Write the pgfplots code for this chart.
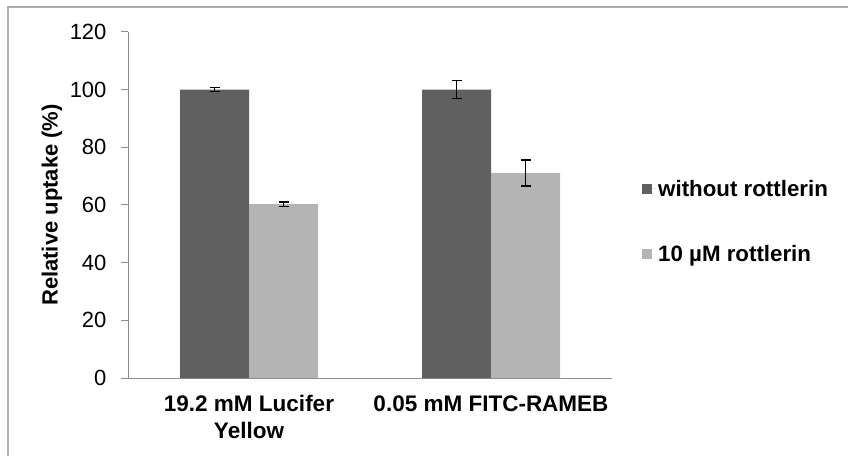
\documentclass[border=0pt]{standalone}
\usepackage{pgfplots}
\pgfplotsset{compat=1.18}
\usepackage{fontspec}
\setmainfont{Liberation Sans}
\definecolor{darkbar}{HTML}{606060}
\definecolor{lightbar}{HTML}{B4B4B4}
\definecolor{axgray}{HTML}{8C8C8C}
\begin{document}
\begin{tikzpicture}[x=1pt,y=1pt]
\useasboundingbox (0,0) rectangle (848,455);
\draw[axgray!70, line width=1.5pt] (8,-2) -- (8,448) -- (850,448);
\begin{axis}[
  at={(128pt,77pt)}, anchor=origin,
  width=484pt, height=346pt, scale only axis,
  xmin=0, xmax=2, ymin=0, ymax=120,
  axis x line*=bottom, axis y line*=left,
  axis line style={axgray, line width=1pt},
  ybar=0pt, bar width=69pt,
  xtick={0.5,1.5},
  xticklabels={{19.2 mM Lucifer\\Yellow},{0.05 mM FITC-RAMEB}},
  xticklabel style={align=center, font=\fontsize{22.5}{27}\selectfont\bfseries, yshift=-7pt},
  major x tick style={draw=none},
  extra x ticks={0,1,2}, extra x tick labels={},
  extra x tick style={tick align=outside, major tick length=7pt, major x tick style={axgray, line width=1pt}},
  ytick={0,20,...,120},
  tick align=outside, major tick length=7pt,
  major y tick style={axgray, line width=1pt},
  yticklabel style={font=\fontsize{22}{26}\selectfont, xshift=-11pt},
  /pgf/number format/assume math mode=true,
  ylabel={Relative uptake (\%)},
  every axis y label/.style={at={(axis description cs:-0.157,0.5)}, rotate=90, anchor=center, font=\fontsize{22}{26}\selectfont\bfseries},
  legend style={draw=none, at={(axis description cs:1.062,0.452)}, anchor=west,
    font=\fontsize{22.3}{26}\selectfont\bfseries, row sep=44pt, inner sep=0pt},
  legend cell align=left,
  legend image code/.code={\fill[#1] (0pt,-5pt) rectangle (10pt,5pt); \path (0pt,0pt) -- (14pt,0pt);},
  error bars/error bar style={black, line width=1.4pt},
  error bars/error mark options={rotate=90, mark size=5pt, line width=1.4pt, black},
]
\addplot[fill=darkbar, draw=none, error bars/.cd, y dir=both, y explicit]
  coordinates {(0.5,100) +- (0,0.7) (1.5,100) +- (0,3.1)};
\addplot[fill=lightbar, draw=none, error bars/.cd, y dir=both, y explicit]
  coordinates {(0.5,60.3) +- (0,0.8) (1.5,71.1) +- (0,4.5)};
\legend{without rottlerin, 10 µM rottlerin}
\end{axis}
\end{tikzpicture}
\end{document}
